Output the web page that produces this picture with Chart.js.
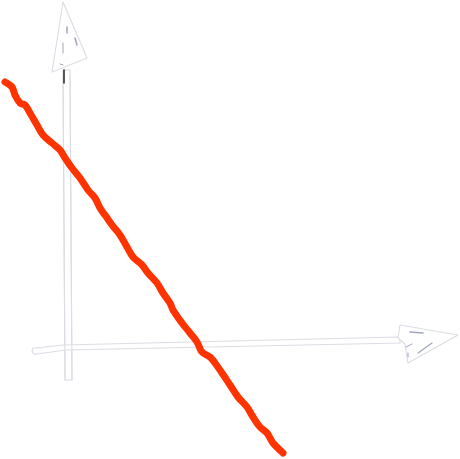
<!DOCTYPE html>
<html>
<head>
<meta charset="utf-8">
<script src="https://cdn.jsdelivr.net/npm/chart.js@4/dist/chart.umd.min.js"></script>
<style>
html,body{margin:0;padding:0;background:#fff;}
#c{display:block;}
</style>
</head>
<body>
<canvas id="c" width="460" height="459"></canvas>
<script>
// Sketch line values
const xValues = [-1.525,-1.35,-1.275,-1.15,-1.025,-0.9,-0.725,-0.575,-0.35,-0.15,-0.025,0.15,0.35,0.55,0.725,0.85,0.975,1.15,1.35,1.525,1.675,1.9,2.05,2.275,2.425,2.6,2.675,2.9,3.1,3.275,3.4,3.6,3.725,3.9,4.1,4.3,4.525,4.675,4.85,5.025,5.175,5.425];
const yValues = [6.625,6.5,6.3,6.1,6.05,5.85,5.55,5.3,5.1,4.925,4.725,4.475,4.225,3.925,3.725,3.475,3.3,3.05,2.8,2.5,2.25,2.05,1.85,1.6,1.35,1.1,0.925,0.6,0.35,0.125,-0.125,-0.25,-0.4,-0.65,-0.95,-1.25,-1.5,-1.75,-2.0,-2.15,-2.4,-2.65];
const xRange = [-1.65, 9.85];
const yRange = [-2.8, 8.675];

const sketchAxes = {
  id: 'sketchAxes',
  beforeDatasetsDraw(chart) {
    const ctx = chart.ctx;
    const ox = chart.scales.x.getPixelForValue(0);
    const oy = chart.scales.y.getPixelForValue(0);
    const P = (dx, dy) => [ox + dx, oy + dy];
    ctx.save();
    ctx.lineJoin = 'round';
    ctx.lineCap = 'round';
    const outline = '#dcdce4';
    const hatch = '#a0a6bc';
    function poly(pts, close, fill) {
      ctx.beginPath();
      pts.forEach((p, i) => { const q = P(p[0], p[1]); if (i) ctx.lineTo(q[0], q[1]); else ctx.moveTo(q[0], q[1]); });
      if (close) ctx.closePath();
      if (fill) { ctx.fillStyle = '#fff'; ctx.fill(); }
      ctx.strokeStyle = outline; ctx.lineWidth = 1.1; ctx.stroke();
    }
    function seg(a, b, col, w) {
      const p = P(a[0], a[1]), q = P(b[0], b[1]);
      ctx.beginPath(); ctx.moveTo(p[0], p[1]); ctx.lineTo(q[0], q[1]);
      ctx.strokeStyle = col; ctx.lineWidth = w; ctx.stroke();
    }
    // y-axis shaft (double line)
    poly([[-3,-277],[-1,33],[6,33],[4,-277]], true, true);
    // x-axis shaft (double line)
    ctx.beginPath();
    let s = P(-31,1);
    ctx.moveTo(s[0], s[1]);
    [[-2,-2],[334,-10],[334,-4],[0,3],[-29,7]].forEach(p => { const q = P(p[0], p[1]); ctx.lineTo(q[0], q[1]); });
    const c1 = P(-33,8), c2 = P(-33,1);
    ctx.quadraticCurveTo(c1[0]-3, c1[1], c2[0], c2[1]);
    ctx.closePath();
    ctx.fillStyle = '#fff'; ctx.fill();
    ctx.strokeStyle = outline; ctx.lineWidth = 1.1; ctx.stroke();
    // redraw y shaft lines over x shaft
    seg([-3,-270],[-1,33], outline, 1.1);
    seg([4,-270],[6,33], outline, 1.1);
    // top arrowhead
    poly([[-3,-345],[-14,-275],[21,-289]], true, true);
    seg([1,-320],[1,-314], hatch, 1.5);
    seg([9,-309],[11,-302], hatch, 1.5);
    seg([-3,-304],[-3,-294], hatch, 1);
    seg([-6,-283],[-3,-282], hatch, 1);
    seg([-2,-277],[-2,-264], '#222', 1.5);
    // right arrowhead
    poly([[334,-22],[392,-12],[342,16],[339,-3],[332,-9]], true, true);
    seg([344,-15],[357,-14], hatch, 1.5);
    seg([366,-4],[352,6], hatch, 1.2);
    seg([340,0],[346,-3], hatch, 1);
    seg([342,6],[342,10], hatch, 1);
    ctx.restore();
  }
};

new Chart(document.getElementById('c'), {
  type: 'line',
  data: {
    datasets: [{
      data: xValues.map((x, i) => ({ x: x, y: yValues[i] })),
      borderColor: '#ff3300',
      borderWidth: 7,
      borderCapStyle: 'round',
      borderJoinStyle: 'round',
      pointRadius: 0,
      tension: 0.35,
      fill: false,
      clip: false
    }]
  },
  options: {
    responsive: false,
    animation: false,
    layout: { padding: 0 },
    plugins: { legend: { display: false }, tooltip: { enabled: false } },
    scales: {
      x: { type: 'linear', display: false, min: xRange[0], max: xRange[1] },
      y: { type: 'linear', display: false, min: yRange[0], max: yRange[1] }
    }
  },
  plugins: [sketchAxes]
});
</script>
</body>
</html>
